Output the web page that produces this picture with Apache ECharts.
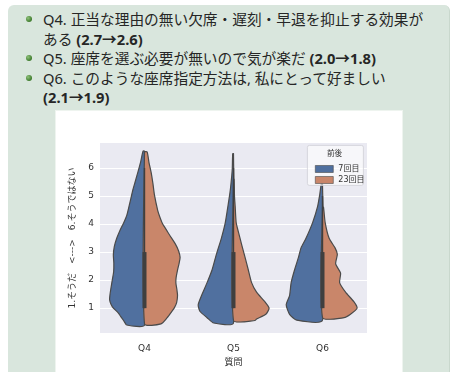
<!DOCTYPE html>
<html>
<head>
<meta charset="utf-8">
<script src="https://cdn.jsdelivr.net/npm/echarts@6/dist/echarts.min.js"></script>
<style>
  html, body { margin: 0; padding: 0; background: #fff; width: 451px; height: 372px; overflow: hidden; }
  #box { position: absolute; left: 8px; top: 5px; width: 441px; height: 380px; background: #d9e6dd;
         border-radius: 6px; border-right: 1px solid #c9d8cd; }
  #panel { position: absolute; left: 56px; top: 111px; width: 346px; height: 270px; background: #fff;
           box-shadow: 0 0 0 1px #eef4ef; }
  .line { position: absolute; left: 43px; height: 20px; line-height: 20px; font-size: 14.7px; color: #262626;
          font-family: "Noto Sans", "Noto Sans CJK JP", sans-serif; white-space: nowrap; }
  .line b { font-weight: bold; }
  .dot { position: absolute; left: 26px; width: 6px; height: 6px; border-radius: 50%;
         background: radial-gradient(circle at 35% 35%, #8fc27a, #3d7a2c 70%); }
  #chart { position: absolute; left: 0; top: 0; width: 451px; height: 372px; }
</style>
</head>
<body>
<div id="box"></div>
<div id="panel"></div>
<div class="dot" style="top:16px"></div>
<div class="line" style="top:9px">Q4. 正当な理由の無い欠席・遅刻・早退を抑止する効果が</div>
<div class="line" style="top:29px">ある <b>(2.7→2.6)</b></div>
<div class="dot" style="top:55px"></div>
<div class="line" style="top:48px">Q5. 座席を選ぶ必要が無いので気が楽だ <b>(2.0→1.8)</b></div>
<div class="dot" style="top:75px"></div>
<div class="line" style="top:68px">Q6. このような座席指定方法は, 私にとって好ましい</div>
<div class="line" style="top:87px"><b>(2.1→1.9)</b></div>
<div id="chart"></div>
<script>
// Questions on the x axis and the two survey rounds
const questions = ['Q4', 'Q5', 'Q6'];
const rounds = ['7回目', '23回目'];
const yTicks = [1, 2, 3, 4, 5, 6];

// Kernel density profiles per question: [answer value, relative density]
const density7 = [
  [[6.60, 1.5], [6.2, 4], [5.86, 6.6], [5.5, 9.5], [5.24, 11.6], [4.73, 15], [4.3, 18], [4.05, 21],
   [3.8, 24.5], [3.5, 28], [3.2, 30.5], [2.9, 31.5], [2.6, 31], [2.3, 31.2], [2.0, 32.6], [1.7, 34],
   [1.45, 35], [1.3, 35.3], [1.15, 34], [1.0, 31.5], [0.85, 27], [0.7, 24], [0.55, 21], [0.40, 18]],
  [[6.51, 0.8], [6.0, 1.2], [5.75, 1.7], [5.19, 3.3], [4.62, 5.7], [4.05, 8.3], [3.49, 12.3],
   [2.92, 17.3], [2.36, 21.7], [1.91, 26.7], [1.45, 32.3], [1.12, 35.7], [0.89, 34], [0.66, 26.7],
   [0.47, 20]],
  [[5.43, 1.2], [5.07, 2.7], [4.62, 5], [4.05, 10], [3.49, 16.7], [3.15, 21.7], [2.81, 24.3],
   [2.36, 28.3], [1.91, 31.7], [1.45, 33.3], [1.12, 36.7], [0.78, 33.3], [0.57, 26]]
];
const density23 = [
  [[6.57, 2.7], [6.2, 4.5], [5.84, 6.7], [5.45, 8.5], [5.05, 10], [4.48, 13.4], [4.25, 15.5],
   [4.03, 18], [3.8, 22], [3.6, 25.5], [3.3, 31], [3.04, 34.5], [2.81, 36], [2.6, 35], [2.36, 33.4],
   [2.1, 32], [1.91, 31.7], [1.65, 32.8], [1.45, 33.4], [1.2, 32.5], [1.0, 30], [0.85, 27],
   [0.66, 23], [0.44, 16.7]],
  [[5.6, 0.5], [5.0, 1.0], [4.62, 1.7], [4.05, 2.7], [3.71, 5], [3.26, 8.3], [2.81, 11.7],
   [2.36, 15], [1.91, 18.3], [1.57, 23.3], [1.23, 31.7], [1.0, 36], [0.78, 32.7], [0.61, 23.3],
   [0.56, 21.7]],
  [[4.6, 1], [4.05, 2.7], [3.49, 6.7], [3.15, 12.7], [2.92, 15], [2.58, 13.3], [2.25, 18.3],
   [1.91, 17.3], [1.57, 23.3], [1.23, 31.7], [1.0, 35], [0.78, 28.3], [0.66, 21.7]]
];

// Box summary over both rounds
const quartile1 = [1, 1, 1];
const quartile3 = [3, 3, 3];
const whiskerLow = [1, 1, 1];
const whiskerHigh = [6, 6, 5];
const medians = [2, 2, 2];

const DENSITY_MAX = 36;   // density that fills a full half violin
const HALF_WIDTH = 0.4;   // half violin width as a share of the category band
const colors = ['#50709f', '#c9866a'];
const edgeColor = '#4a4a4a';

function halfViolin(profiles, side, color) {
  return function (params, api) {
    const i = api.value(0);
    const prof = profiles[i];
    const band = api.size([1, 0])[0];
    const top = api.coord([i, prof[0][0]]);
    const bottom = api.coord([i, prof[prof.length - 1][0]]);
    const pts = [top];
    prof.forEach(function (p) {
      const c = api.coord([i, p[0]]);
      pts.push([c[0] + side * p[1] / DENSITY_MAX * HALF_WIDTH * band, c[1]]);
    });
    pts.push(bottom);
    return {
      type: 'polygon',
      shape: { points: pts, smooth: 0.2 },
      style: { fill: color, stroke: edgeColor, lineWidth: 1.2 }
    };
  };
}

function boxItem(params, api) {
  const i = api.value(0);
  const lo = api.coord([i, whiskerLow[i]]);
  const hi = api.coord([i, whiskerHigh[i]]);
  const q1 = api.coord([i, quartile1[i]]);
  const q3 = api.coord([i, quartile3[i]]);
  return {
    type: 'group',
    children: [
      { type: 'line', shape: { x1: lo[0], y1: lo[1], x2: hi[0], y2: hi[1] },
        style: { stroke: '#3f3f3f', lineWidth: 1.4 } },
      { type: 'line', shape: { x1: q1[0], y1: q1[1], x2: q3[0], y2: q3[1] },
        style: { stroke: '#3f3f3f', lineWidth: 4 } }
    ]
  };
}

const chart = echarts.init(document.getElementById('chart'), null, { renderer: 'canvas' });
const font = '"DejaVu Sans", "Noto Sans CJK JP", sans-serif';
const itemsData = questions.map(function (q, i) { return [i, medians[i]]; });

chart.setOption({
  backgroundColor: 'transparent',
  animation: false,
  textStyle: { fontFamily: font },
  grid: { left: 100, top: 143, width: 267, height: 200, show: true, backgroundColor: '#eaeaf2', borderWidth: 0 },
  xAxis: {
    type: 'category',
    data: questions,
    name: '質問',
    nameLocation: 'middle',
    nameGap: 24,
    nameTextStyle: { fontSize: 9, color: '#333', fontFamily: font },
    axisLine: { show: false },
    axisTick: { show: false },
    axisLabel: { fontSize: 9, color: '#333', margin: 11 },
    splitLine: { show: false }
  },
  yAxis: {
    type: 'value',
    min: 0.11,
    max: 6.89,
    name: '1.そうだ　<--->　6.そうではない',
    nameLocation: 'middle',
    nameRotate: 90,
    nameGap: 20,
    nameTextStyle: { fontSize: 9, color: '#333', fontFamily: font },
    axisLine: { show: false },
    axisTick: { show: false, customValues: yTicks },
    axisLabel: { fontSize: 9, color: '#333', margin: 6, customValues: yTicks },
    splitLine: { show: true, lineStyle: { color: '#ffffff', width: 1 } }
  },
  legend: {
    data: rounds,
    orient: 'vertical',
    left: 310,
    top: 160,
    itemWidth: 18,
    itemHeight: 7,
    itemGap: 3,
    icon: 'rect',
    textStyle: { fontSize: 8, color: '#333' },
    itemStyle: { borderColor: edgeColor, borderWidth: 0.6 }
  },
  graphic: [
    { type: 'rect', left: 307, top: 145, z: 3,
      shape: { width: 56, height: 40, r: 2 },
      style: { fill: 'rgba(255,255,255,0.6)', stroke: '#cfcfd6', lineWidth: 0.8 } },
    { type: 'text', left: 327, top: 150, z: 5,
      style: { text: '前後', fontSize: 7.5, fill: '#333', fontFamily: font } }
  ],
  series: [
    { type: 'custom', name: rounds[0], data: itemsData, encode: { x: 0, y: 1 },
      itemStyle: { color: colors[0] }, renderItem: halfViolin(density7, -1, colors[0]), z: 2 },
    { type: 'custom', name: rounds[1], data: itemsData, encode: { x: 0, y: 1 },
      itemStyle: { color: colors[1] }, renderItem: halfViolin(density23, 1, colors[1]), z: 2 },
    { type: 'custom', name: 'box', data: itemsData, encode: { x: 0, y: 1 },
      renderItem: boxItem, z: 3 }
  ]
});
</script>
</body>
</html>
